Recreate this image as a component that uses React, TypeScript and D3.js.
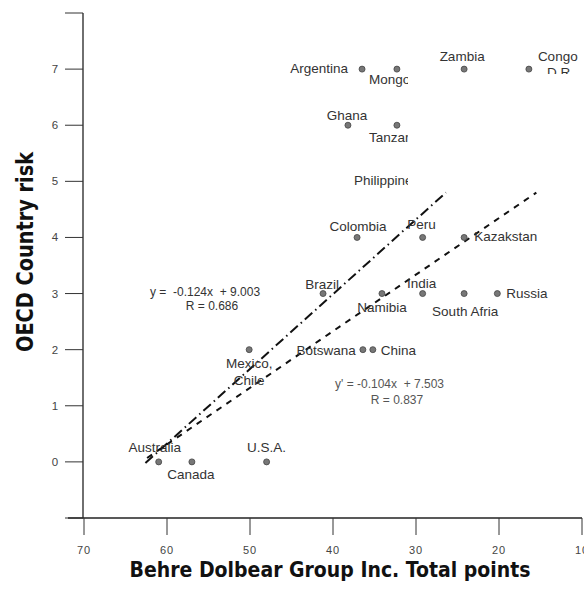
import React from "react";
import * as d3 from "d3";

const W = 584;
const H = 590;

// Data: [Behre Dolbear total points, OECD country risk]
const countries = ["Argentina", "Mongolia", "Zambia", "Congo D.R.", "Ghana", "Tanzania", "Colombia", "Peru", "Kazakstan", "Brazil", "Namibia", "India", "South Africa", "Russia", "Mexico, Chile", "Botswana", "China", "Australia", "Canada", "U.S.A."];
const bdPoints = [36.5, 32.3, 24.2, 16.4, 38.2, 32.3, 37.1, 29.2, 24.2, 41.2, 34.1, 29.2, 24.2, 20.2, 50.1, 36.4, 35.2, 61, 57, 48];
const oecdRisk = [7, 7, 7, 7, 6, 6, 4, 4, 4, 3, 3, 3, 3, 3, 2, 2, 2, 0, 0, 0];

const labelTexts = ["Argentina", "Mongolia", "Zambia", "Congo", "D.R.", "Ghana", "Tanzania", "Philippines", "Colombia", "Peru", "Kazakstan", "Brazil", "India", "Namibia", "South Afria", "Russia", "Botswana", "China", "Mexico,", "Chile", "Australia", "Canada", "U.S.A."];

const xTicks = [70, 60, 50, 40, 30, 20, 10];
const yTicks = [-1, 0, 1, 2, 3, 4, 5, 6, 7, 8];
const yTickLabels = ["", "0", "1", "2", "3", "4", "5", "6", "7", ""];

// Fitted lines drawn in the figure (endpoints in data units)
const fitDashDotX = [62.6, 26.4];
const fitDashDotY = [-0.02, 4.8];
const fitDashedX = [62.4, 15.5];
const fitDashedY = [0.07, 4.8];

const eqA = ["y =  -0.124x  + 9.003", "R = 0.686"];
const eqB = ["y' = -0.104x  + 7.503", "R = 0.837"];

const x = d3.scaleLinear().domain([70, 10]).range([84, 582]);
const y = d3.scaleLinear().domain([-1, 8]).range([518, 13]);

const titleFont = "'Liberation Sans Narrow', 'DejaVu Sans Condensed', 'Roboto', sans-serif";
const bodyFont = "'Liberation Sans', Arial, sans-serif";

const labelAnchors: [number, number, number, number, "start" | "middle" | "end"][] = [
  [36.5, 7, -14, 4, "end"],
  [32.3, 7, -28, 15, "start"],
  [24.2, 7, -2, -8, "middle"],
  [16.4, 7, 9, -8, "start"],
  [16.4, 7, 18, 8, "start"],
  [38.2, 6, -1, -5, "middle"],
  [32.3, 6, -28, 17, "start"],
  [32.3, 5, -43, 4, "start"],
  [37.1, 4, 1, -6, "middle"],
  [29.2, 4, -1, -8, "middle"],
  [24.2, 4, 10, 4, "start"],
  [41.2, 3, -1, -5, "middle"],
  [29.2, 3, -1, -6, "middle"],
  [34.1, 3, 0, 18, "middle"],
  [24.2, 3, 1, 22, "middle"],
  [20.2, 3, 9, 4, "start"],
  [36.4, 2, -7, 5, "end"],
  [35.2, 2, 8, 5, "start"],
  [50.1, 2, 0, 18, "middle"],
  [50.1, 2, 0, 35, "middle"],
  [61, 0, -4, -10, "middle"],
  [57, 0, -1, 17, "middle"],
  [48, 0, 0, -10, "middle"],
];
const clipRight = [false, true, false, false, false, false, true, true, false, false, false, false, false, false, false, false, false, false, false, false, false, false, false];
const clipBottom = [false, false, false, false, true, false, false, false, false, false, false, false, false, false, false, false, false, false, false, false, false, false, false];

export default function App() {
  const lineGen = d3.line<[number, number]>().x((d) => x(d[0])).y((d) => y(d[1]));
  const lineA = lineGen(fitDashDotX.map((v, i) => [v, fitDashDotY[i]] as [number, number]));
  const lineB = lineGen(fitDashedX.map((v, i) => [v, fitDashedY[i]] as [number, number]));

  return (
    <svg width={W} height={H} style={{ position: "absolute", left: 0, top: 0, background: "#fff" }}>
      <defs>
        <clipPath id="clipR">
          <rect x={0} y={0} width={408} height={H} />
        </clipPath>
        <clipPath id="clipB">
          <rect x={0} y={0} width={W} height={74} />
        </clipPath>
      </defs>

      {/* Axes */}
      <line x1={x(70) - 1} x2={x(70) - 1} y1={y(8)} y2={y(-1)} stroke="#222" strokeWidth={1.3} />
      <line x1={68} x2={x(10)} y1={y(-1)} y2={y(-1)} stroke="#222" strokeWidth={1.3} />
      {yTicks.map((t, i) => (
        <g key={"yt" + t}>
          <line x1={65} x2={x(70) - 1} y1={y(t)} y2={y(t)} stroke="#333" strokeWidth={1} />
          {yTickLabels[i] && (
            <text x={55} y={y(t) + 4} fontSize={11.5} fontFamily={bodyFont} fill="#444" textAnchor="middle">
              {yTickLabels[i]}
            </text>
          )}
        </g>
      ))}
      {xTicks.map((t) => (
        <g key={"xt" + t}>
          <line x1={x(t)} x2={x(t)} y1={y(-1)} y2={y(-1) + 17} stroke="#333" strokeWidth={1} />
          <text x={x(t)} y={554} fontSize={11} fontFamily={bodyFont} fill="#444" textAnchor="middle" letterSpacing={1}>
            {t}
          </text>
        </g>
      ))}

      {/* Axis titles */}
      <text
        transform={`translate(33, 252) rotate(-90)`}
        fontSize={23}
        fontWeight="bold"
        fontFamily={titleFont}
        fill="#111"
        textAnchor="middle"
        textLength={200}
        lengthAdjust="spacingAndGlyphs"
      >
        OECD Country risk
      </text>
      <text
        x={330}
        y={577}
        fontSize={21.5}
        fontWeight="bold"
        fontFamily={titleFont}
        fill="#111"
        textAnchor="middle"
        textLength={401}
        lengthAdjust="spacingAndGlyphs"
      >
        Behre Dolbear Group Inc. Total points
      </text>

      {/* Fit lines */}
      <path d={lineA || ""} fill="none" stroke="#111" strokeWidth={2} strokeDasharray="10 4 1.5 4" />
      <path d={lineB || ""} fill="none" stroke="#111" strokeWidth={2} strokeDasharray="6 6" />

      {/* Points */}
      {countries.map((c, i) => (
        <circle key={c} cx={x(bdPoints[i])} cy={y(oecdRisk[i])} r={3} fill="#777" stroke="#444" strokeWidth={0.8} />
      ))}

      {/* Labels */}
      {labelTexts.map((t, i) => {
        const [lx, ly, dx, dy, anchor] = labelAnchors[i];
        return (
          <text
            key={t + i}
            x={x(lx) + dx}
            y={y(ly) + dy}
            fontSize={13.5}
            fontFamily={bodyFont}
            fill="#333"
            textAnchor={anchor}
            clipPath={clipRight[i] ? "url(#clipR)" : clipBottom[i] ? "url(#clipB)" : undefined}
          >
            {t}
          </text>
        );
      })}

      {/* Equations */}
      <text x={150} y={296} fontSize={12} fontFamily={bodyFont} fill="#333" xmlSpace="preserve">{eqA[0]}</text>
      <text x={212} y={310} fontSize={12} fontFamily={bodyFont} fill="#333" textAnchor="middle">{eqA[1]}</text>
      <text x={335} y={388} fontSize={12} fontFamily={bodyFont} fill="#555" xmlSpace="preserve">{eqB[0]}</text>
      <text x={397} y={404} fontSize={12} fontFamily={bodyFont} fill="#555" textAnchor="middle">{eqB[1]}</text>
    </svg>
  );
}
